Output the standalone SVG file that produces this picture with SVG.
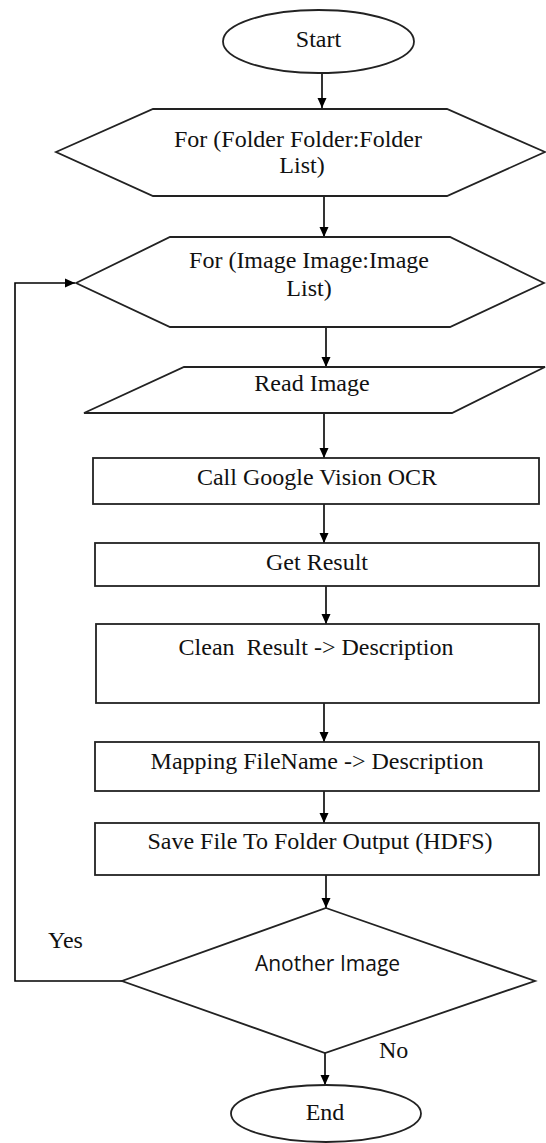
<svg xmlns="http://www.w3.org/2000/svg" width="546" height="1143" viewBox="0 0 546 1143">
<defs>
<marker id="ah" markerWidth="10" markerHeight="10" refX="10" refY="5" orient="auto" markerUnits="userSpaceOnUse">
<path d="M0,0.5 L10,5 L0,9.5 Z" fill="#000"/>
</marker>
</defs>
<style>
.shape{fill:#fff;stroke:#222;stroke-width:1.8}
.conn{fill:none;stroke:#000;stroke-width:1.6}
.t{font-family:'Liberation Serif','DejaVu Serif',serif;font-size:24px;fill:#111;text-anchor:middle}
.s{font-family:'Open Sans','Liberation Sans',sans-serif;font-size:21px;fill:#111;text-anchor:middle}
.lbl{font-family:'Liberation Serif','DejaVu Serif',serif;font-size:24px;fill:#111}
</style>
<rect width="546" height="1143" fill="#fff"/>
<g id="connectors">
<line class="conn" x1="322" y1="73" x2="322" y2="108" marker-end="url(#ah)"/>
<line class="conn" x1="324" y1="196" x2="324" y2="237" marker-end="url(#ah)"/>
<line class="conn" x1="326" y1="327" x2="326" y2="367" marker-end="url(#ah)"/>
<line class="conn" x1="324" y1="413" x2="324" y2="458" marker-end="url(#ah)"/>
<line class="conn" x1="324" y1="504" x2="324" y2="543" marker-end="url(#ah)"/>
<line class="conn" x1="326" y1="586" x2="326" y2="624" marker-end="url(#ah)"/>
<line class="conn" x1="324" y1="703" x2="324" y2="742" marker-end="url(#ah)"/>
<line class="conn" x1="324" y1="791" x2="324" y2="823" marker-end="url(#ah)"/>
<line class="conn" x1="326" y1="875" x2="326" y2="908" marker-end="url(#ah)"/>
<line class="conn" x1="325" y1="1053" x2="325" y2="1085" marker-end="url(#ah)"/>
<polyline class="conn" points="122,981 15,981 15,283 75,283" marker-end="url(#ah)"/>
</g>
<g id="start">
<ellipse class="shape" cx="318.5" cy="41.5" rx="95.5" ry="31.5"/>
<text class="t" x="318.5" y="47" font-family="Liberation Serif, serif">Start</text>
</g>
<g id="for-folder">
<polygon class="shape" points="56,152 153,109 447,109 545,152 447,196 153,196"/>
<text class="t" x="298" y="147">For (Folder Folder:Folder</text>
<text class="t" x="302" y="173">List)</text>
</g>
<g id="for-image">
<polygon class="shape" points="76,283 170,237 450,237 544,283 450,327 170,327"/>
<text class="t" x="309" y="268">For (Image Image:Image</text>
<text class="t" x="309" y="296">List)</text>
</g>
<g id="read-image">
<polygon class="shape" points="184,367 545,367 452,413 84,413"/>
<text class="t" x="312" y="391">Read Image</text>
</g>
<g id="call-ocr">
<rect class="shape" x="93" y="458" width="446" height="46"/>
<text class="t" x="317" y="485">Call Google Vision OCR</text>
</g>
<g id="get-result">
<rect class="shape" x="95" y="543" width="444" height="43"/>
<text class="t" x="317" y="570">Get Result</text>
</g>
<g id="clean-result">
<rect class="shape" x="96" y="624" width="443" height="79"/>
<text class="t" x="316" y="655" xml:space="preserve">Clean  Result -&gt; Description</text>
</g>
<g id="mapping">
<rect class="shape" x="95" y="742" width="444" height="49"/>
<text class="t" x="317" y="769">Mapping FileName -&gt; Description</text>
</g>
<g id="save-file">
<rect class="shape" x="95" y="823" width="444" height="52"/>
<text class="t" x="320" y="849">Save File To Folder Output (HDFS)</text>
</g>
<g id="another-image">
<polygon class="shape" points="326,908 535,981 325,1053 122,981"/>
<text class="s" x="327.5" y="971">Another Image</text>
</g>
<g id="labels">
<text class="lbl" x="48" y="948">Yes</text>
<text class="lbl" x="379" y="1058">No</text>
</g>
<g id="end">
<ellipse class="shape" cx="326" cy="1113.5" rx="95" ry="28.5"/>
<text class="t" x="325" y="1120">End</text>
</g>
</svg>
